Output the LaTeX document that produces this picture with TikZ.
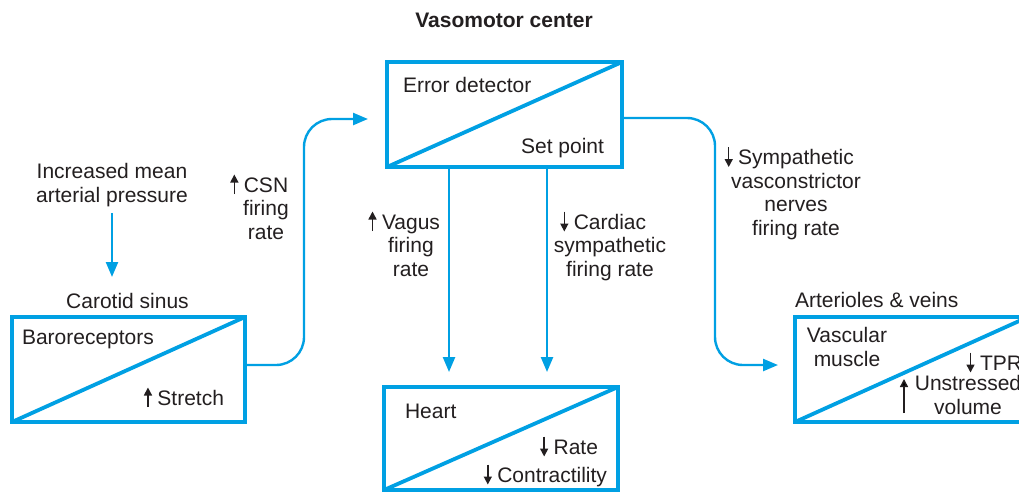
\documentclass[tikz,border=0pt]{standalone}
\usepackage{fontspec}
\setmainfont{Liberation Sans}
\usetikzlibrary{arrows.meta}
\definecolor{cyanb}{RGB}{0,160,227}
\definecolor{txt}{RGB}{35,31,32}
\newcommand\upa{\llap{\tikz[baseline=0pt]\draw[txt,line width=1.5pt,-{Triangle[length=8pt,width=8pt]}] (0pt,-2pt)--(0pt,17.5pt);\kern5.5pt}}
\newcommand\dna{\llap{\tikz[baseline=0pt]\draw[txt,line width=1.5pt,-{Triangle[length=8pt,width=8pt]}] (0pt,17.5pt)--(0pt,-2.5pt);\kern5.5pt}}
\begin{document}
\begin{tikzpicture}[x=1pt,y=-1pt,
  font=\fontsize{21}{23.5}\selectfont,
  every node/.style={text=txt,inner sep=0pt,outer sep=0pt},
  box/.style={draw=cyanb,line width=3.5pt,anchor=north west,minimum height=105pt},
  diag/.style={draw=cyanb,line width=3.8pt},
  conn/.style={draw=cyanb,line width=2.4pt,-{Triangle[length=15pt,width=12pt]}},
  glyph/.style={draw=txt,line width=1.5pt,-{Triangle[length=8pt,width=8pt]}}]
\useasboundingbox (0,0) rectangle (1019,493);
\clip (0,0) rectangle (1019,493);
\fill[white] (0,0) rectangle (1019,493);

% boxes
\node[box,minimum width=235pt] (ed) at (387,62) {};
\node[box,minimum width=233pt] (baro) at (12,317) {};
\node[box,minimum width=234pt,minimum height=103pt] (heart) at (384,387) {};
\node[box,minimum width=233pt] (vasc) at (795,317) {};
\draw[diag] (ed.south west) -- (ed.north east);
\draw[diag] (baro.south west) -- (baro.north east);
\draw[diag] (heart.south west) -- (heart.north east);
\draw[diag] (vasc.south west) -- (vasc.north east);

% box texts
\node[anchor=base west] (edt) at (403,92) {Error detector};
\node[anchor=base east] (sp) at (604,153) {Set point};
\node[anchor=base west] (brt) at (22,344) {Baroreceptors};
\node[anchor=base east] (str) at (224,405) {\upa Stretch};
\node[anchor=base west] (ht) at (405,418) {Heart};
\node[anchor=base east] (rt) at (598,454) {\dna Rate};
\node[anchor=base east] (ct) at (607,482) {\dna Contractility};
\node[anchor=base,align=center] (vm) at (847,366) {Vascular\\muscle};
\node[anchor=base west] (tpr) at (980,370) {\dna TPR};
\node[anchor=base,align=center] (unv) at (968,414) {Unstressed\\volume};
\coordinate (ua1) at (904,413);
\coordinate (ua2) at (904,379);
\draw[glyph] (ua1) -- (ua2);

% outer labels
\node[anchor=base,font=\fontsize{21}{23.5}\selectfont\bfseries] (title) at (504,27) {Vasomotor center};
\node[anchor=base,align=center] (inc) at (112,202) {Increased mean\\arterial pressure};
\node[anchor=base,align=center] (csn) at (266,239) {\upa CSN\\firing\\rate};
\node[anchor=base,align=center] (vag) at (411,276) {\upa Vagus\\firing\\rate};
\node[anchor=base,align=center] (card) at (610,276) {\dna Cardiac\\sympathetic\\firing rate};
\node[anchor=base,align=center] (symp) at (796,235) {\dna Sympathetic\\vasconstrictor\\nerves\\firing rate};
\node[anchor=base] (cs) at (127.5,308) {Carotid sinus};
\node[anchor=base west] (av) at (795,307) {Arterioles \& veins};

% connectors
\coordinate (incend) at (112,277);
\coordinate (edin) at (368,119);
\coordinate (vin) at (778,365);
\draw[conn,shorten <=6.6pt] (inc.south) -- (incend);
\draw[conn,rounded corners=28pt] ([yshift=4.5pt]baro.east) -| (304,119) -- (edin);
\draw[conn,rounded corners=28pt] ([yshift=-3.5pt]ed.east) -| (715,365) -- (vin);
\draw[conn,shorten >=15pt] ([xshift=62pt]ed.south west) -- ([xshift=65pt]heart.north west);
\draw[conn,shorten >=15pt] ([xshift=160pt]ed.south west) -- ([xshift=163pt]heart.north west);
\end{tikzpicture}
\end{document}
